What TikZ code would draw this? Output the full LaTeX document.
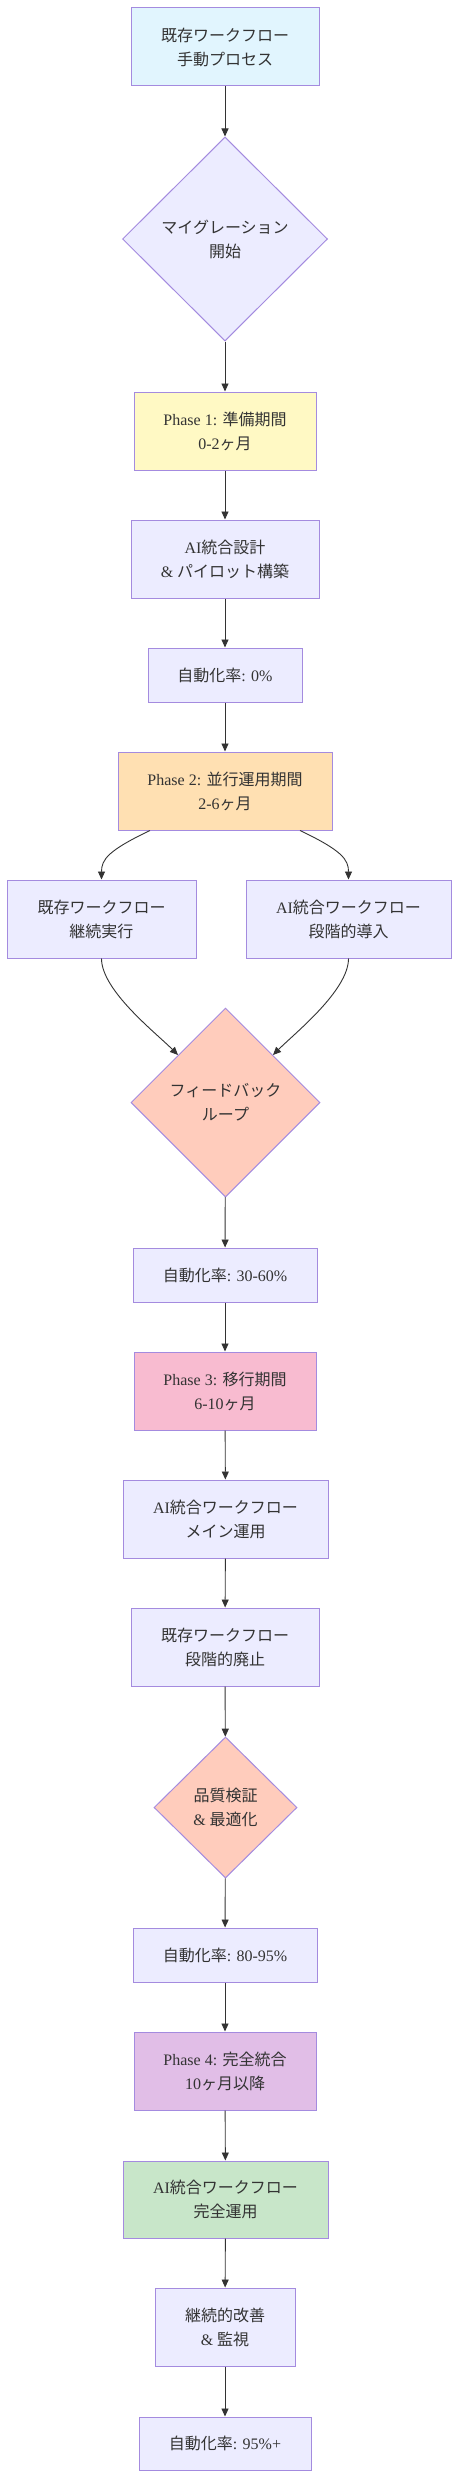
\documentclass[tikz,border=0pt]{standalone}
\usepackage{fontspec}
\setmainfont{Liberation Serif}
\newfontfamily\jpfont{Noto Sans CJK JP}
\newcommand{\jtxt}[1]{{\jpfont #1}}
\usetikzlibrary{shapes.geometric,arrows.meta,calc}
\definecolor{strokec}{HTML}{A48BDF}
\definecolor{txtc}{HTML}{333333}
\definecolor{defc}{HTML}{ECECFF}
\definecolor{bluec}{HTML}{E1F5FE}
\definecolor{yelc}{HTML}{FFF9C4}
\definecolor{orac}{HTML}{FFE0B2}
\definecolor{salc}{HTML}{FFCCBC}
\definecolor{pinkc}{HTML}{F8BBD0}
\definecolor{purc}{HTML}{E1BEE7}
\definecolor{grnc}{HTML}{C8E6C9}
\tikzset{
  base/.style={draw=strokec, line width=1pt, text=txtc, align=center, inner sep=0pt,
    font=\fontsize{16}{24}\selectfont},
  box/.style={base, rectangle, fill=defc},
  dia/.style={base, diamond, aspect=1, fill=defc},
  conn/.style={draw=txtc, line width=0.9pt, -{Triangle[length=8pt,width=7pt]}},
}
\begin{document}
\begin{tikzpicture}[x=1pt,y=-1pt]
\fill[white] (0,0) rectangle (459,2478);
\useasboundingbox (0,0) rectangle (459,2478);

\node[box, fill=bluec, minimum width=188, minimum height=78] (n1) at (225,47) {\jtxt{既存ワークフロー}\\\jtxt{手動プロセス}};
\node[dia, minimum width=205, minimum height=204] (d1) at (225,239) {\jtxt{マイグレーション}\\\jtxt{開始}};
\node[box, fill=yelc, minimum width=182, minimum height=78] (p1) at (225,431) {Phase 1: \jtxt{準備期間}\\0-2\jtxt{ヶ月}};
\node[box, minimum width=188, minimum height=78] (n2) at (225,559) {AI\jtxt{統合設計}\\\& \jtxt{パイロット構築}};
\node[box, minimum width=154, minimum height=54] (r0) at (225,675) {\jtxt{自動化率}: 0\%};
\node[box, fill=orac, minimum width=214, minimum height=78] (p2) at (225,791) {Phase 2: \jtxt{並行運用期間}\\2-6\jtxt{ヶ月}};
\node[box, minimum width=189, minimum height=78] (L) at (101.5,919) {\jtxt{既存ワークフロー}\\\jtxt{継続実行}};
\node[box, minimum width=205, minimum height=78] (R) at (348.5,919) {AI\jtxt{統合ワークフロー}\\\jtxt{段階的導入}};
\node[dia, fill=salc, minimum width=189, minimum height=189] (d2) at (225.5,1102.5) {\jtxt{フィードバック}\\\jtxt{ループ}};
\node[box, minimum width=184, minimum height=54] (r1) at (225,1275) {\jtxt{自動化率}: 30-60\%};
\node[box, fill=pinkc, minimum width=182, minimum height=78] (p3) at (225,1391) {Phase 3: \jtxt{移行期間}\\6-10\jtxt{ヶ月}};
\node[box, minimum width=205, minimum height=78] (n3) at (225.5,1519) {AI\jtxt{統合ワークフロー}\\\jtxt{メイン運用}};
\node[box, minimum width=188, minimum height=78] (n4) at (225,1647) {\jtxt{既存ワークフロー}\\\jtxt{段階的廃止}};
\node[dia, fill=salc, minimum width=143, minimum height=141] (d3) at (225.5,1807.5) {\jtxt{品質検証}\\\& \jtxt{最適化}};
\node[box, minimum width=184, minimum height=54] (r2) at (225,1955) {\jtxt{自動化率}: 80-95\%};
\node[box, fill=purc, minimum width=182, minimum height=78] (p4) at (225,2071) {Phase 4: \jtxt{完全統合}\\10\jtxt{ヶ月以降}};
\node[box, fill=grnc, minimum width=205, minimum height=77] (n5) at (225.5,2199.5) {AI\jtxt{統合ワークフロー}\\\jtxt{完全運用}};
\node[box, minimum width=140, minimum height=78] (n6) at (225,2327) {\jtxt{継続的改善}\\\& \jtxt{監視}};
\node[box, minimum width=172, minimum height=53] (r3) at (225,2443.5) {\jtxt{自動化率}: 95\%+};

\draw[conn] (n1) -- (d1);
\draw[conn] (d1) -- (p1);
\draw[conn] (p1) -- (n2);
\draw[conn] (n2) -- (r0);
\draw[conn] (r0) -- (p2);
\draw[conn] ([xshift=-75pt]p2.south) .. controls +(-42,20) and +(0,-20) .. (L.north);
\draw[conn] ([xshift=75pt]p2.south) .. controls +(42,20) and +(0,-20) .. (R.north);
\draw[conn] (L.south) .. controls +(0,32) and +(-22,-22) .. (d2.north west);
\draw[conn] (R.south) .. controls +(0,32) and +(22,-22) .. (d2.north east);
\draw[conn] (d2) -- (r1);
\draw[conn] (r1) -- (p3);
\draw[conn] (p3) -- (n3);
\draw[conn] (n3) -- (n4);
\draw[conn] (n4) -- (d3);
\draw[conn] (d3) -- (r2);
\draw[conn] (r2) -- (p4);
\draw[conn] (p4) -- (n5);
\draw[conn] (n5) -- (n6);
\draw[conn] (n6) -- (r3);
\end{tikzpicture}
\end{document}
